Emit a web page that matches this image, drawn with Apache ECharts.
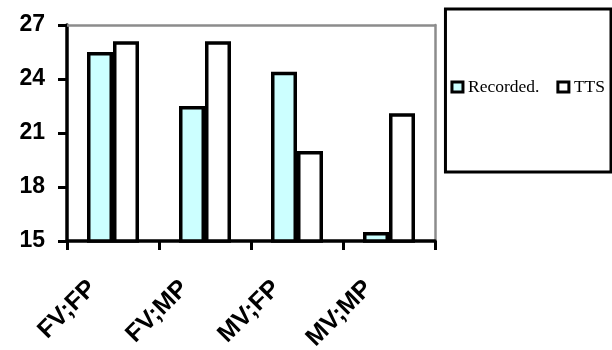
<!DOCTYPE html>
<html>
<head>
<meta charset="utf-8">
<script src="https://cdn.jsdelivr.net/npm/echarts@6/dist/echarts.min.js"></script>
<style>
  html, body { margin: 0; padding: 0; background: #ffffff; }
  #chart { width: 612px; height: 350px; }
</style>
</head>
<body>
<div id="chart"></div>
<script>
// Condition labels along the category axis
const categories = ['FV;FP', 'FV;MP', 'MV;FP', 'MV;MP'];
// Scores per condition
const recordedValues = [25.5, 22.5, 24.4, 15.5];
const ttsValues = [26.1, 26.1, 20.0, 22.1];
// Value axis ticks
const yTicks = [15, 18, 21, 24, 27];

const chart = echarts.init(document.getElementById('chart'), null, { renderer: 'canvas' });

const barBorder = { borderColor: '#000000', borderWidth: 3.5 };
const yMin = yTicks[0];
const yMax = yTicks[yTicks.length - 1];
const yStep = yTicks[1] - yTicks[0];

chart.setOption({
  backgroundColor: '#ffffff',
  animation: false,
  grid: {
    left: 67, top: 25, right: 177, bottom: 109,
    containLabel: false, outerBoundsMode: 'none'
  },
  legend: {
    orient: 'horizontal',
    right: 1, top: 9,
    icon: 'rect',
    itemWidth: 11, itemHeight: 10, itemGap: 17,
    padding: [69, 6, 76, 5],
    borderColor: '#000000', borderWidth: 3,
    textStyle: { fontFamily: 'Liberation Serif', fontSize: 17.5, color: '#000000' },
    data: [
      { name: 'Recorded.', itemStyle: { color: '#ccffff', borderColor: '#000000', borderWidth: 3 } },
      { name: 'TTS', itemStyle: { color: '#ffffff', borderColor: '#000000', borderWidth: 3 } }
    ]
  },
  xAxis: [
    {
      type: 'category',
      data: categories,
      position: 'bottom',
      axisLine: { show: true, lineStyle: { color: '#000000', width: 3.5 } },
      axisTick: { show: true, alignWithLabel: false, length: 9, lineStyle: { color: '#000000', width: 3 } },
      axisLabel: {
        rotate: 45, margin: 23, padding: [0, 29, 0, 0],
        fontFamily: 'Liberation Sans', fontWeight: 'bold', fontSize: 25, color: '#000000'
      },
      splitLine: { show: false }
    },
    {
      // plain grey frame edge along the top of the plot
      type: 'category',
      data: categories,
      position: 'top',
      axisLine: { show: true, lineStyle: { color: '#8c8c8c', width: 2.5 } },
      axisTick: { show: false },
      axisLabel: { show: false },
      splitLine: { show: false }
    }
  ],
  yAxis: [
    {
      type: 'value',
      min: yMin, max: yMax, interval: yStep,
      position: 'left',
      axisLine: { show: true, lineStyle: { color: '#000000', width: 3.5 } },
      axisTick: { show: true, inside: false, length: 9, lineStyle: { color: '#000000', width: 3 } },
      axisLabel: {
        margin: 22,
        fontFamily: 'Liberation Sans', fontWeight: 'bold', fontSize: 23, color: '#000000'
      },
      splitLine: { show: false }
    },
    {
      // plain grey frame edge along the right of the plot
      type: 'value',
      min: yMin, max: yMax, interval: yStep,
      position: 'right',
      axisLine: { show: true, lineStyle: { color: '#8c8c8c', width: 2.5 } },
      axisTick: { show: false },
      axisLabel: { show: false },
      splitLine: { show: false }
    }
  ],
  series: [
    {
      name: 'Recorded.', type: 'bar', data: recordedValues,
      xAxisIndex: 0, yAxisIndex: 0,
      barWidth: 26, barGap: '0%',
      itemStyle: Object.assign({ color: '#ccffff' }, barBorder)
    },
    {
      name: 'TTS', type: 'bar', data: ttsValues,
      xAxisIndex: 0, yAxisIndex: 0,
      barWidth: 26, barGap: '0%',
      itemStyle: Object.assign({ color: '#ffffff' }, barBorder)
    }
  ]
});
</script>
</body>
</html>
